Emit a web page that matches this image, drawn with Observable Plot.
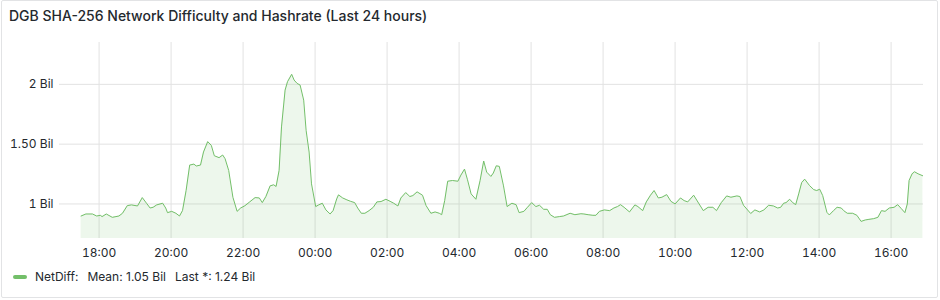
<!DOCTYPE html>
<html>
<head>
<meta charset="utf-8">
<script src="https://cdn.jsdelivr.net/npm/d3@7"></script>
<script src="https://cdn.jsdelivr.net/npm/@observablehq/plot@0.6"></script>
<style>
  html, body { margin: 0; padding: 0; background: #fff; }
  body { position: relative; width: 940px; height: 300px; overflow: hidden; font-family: Inter, "Noto Sans", sans-serif; color: #24292e; }
  #panel { position: absolute; left: 1px; top: 0px; width: 935px; height: 296px; border: 1px solid #e2e3e5; border-radius: 2px; }
  #title { position: absolute; left: 9px; top: 7px; font-size: 14px; line-height: 17px; font-weight: 500; color: #24292e; white-space: nowrap; }
  #chart { position: absolute; left: 0; top: 0; }
  #legend { position: absolute; left: 13px; top: 269px; font-size: 12px; line-height: 15px; color: #24292e; white-space: nowrap; display: flex; align-items: center; }
  #legend .sw { display: inline-block; width: 14px; height: 4px; border-radius: 2px; background: #73BF69; margin-right: 8px; }
  #legend .gap { display: inline-block; width: 9px; }
</style>
</head>
<body>
<div id="panel"></div>
<div id="title">DGB SHA-256 Network Difficulty and Hashrate (Last 24 hours)</div>
<div id="chart"></div>
<div id="legend"><span class="sw"></span><span>NetDiff:</span><span class="gap"></span><span>Mean: 1.05 Bil</span><span class="gap"></span><span>Last *: 1.24 Bil</span></div>
<script>
// Sample times (HH:MM, starting on day 1 at 17:30, rolling over past midnight)
const times = [
"17:30","17:38","17:49","17:56","18:02","18:05","18:12","18:22","18:33","18:39","18:47","18:54",
"19:04","19:12","19:19","19:25","19:30","19:36","19:46","19:51","19:54","20:01","20:08","20:14",
"20:19","20:25","20:31","20:38","20:42","20:49","20:54","21:01","21:07","21:12","21:20","21:26",
"21:30","21:36","21:43","21:50","21:56","22:03","22:11","22:20","22:27","22:32","22:38","22:45",
"22:51","22:55","23:00","23:04","23:10","23:14","23:21","23:25","23:30","23:35","23:41","23:45",
"23:50","23:54","00:01","00:06","00:12","00:18","00:25","00:30","00:36","00:39","00:46","00:53",
"00:59","01:06","01:11","01:17","01:23","01:30","01:37","01:43","01:50","01:58","02:05","02:11",
"02:18","02:23","02:31","02:38","02:43","02:50","02:59","03:05","03:13","03:20","03:27","03:31",
"03:36","03:41","03:49","03:58","04:03","04:09","04:14","04:20","04:28","04:35","04:41","04:46",
"04:53","04:57","05:02","05:07","05:14","05:20","05:28","05:35","05:40","05:48","05:54","06:01",
"06:08","06:14","06:21","06:27","06:32","06:39","06:47","06:54","07:05","07:13","07:23","07:28",
"07:35","07:43","07:48","07:54","08:02","08:11","08:18","08:24","08:29","08:35","08:44","08:53",
"08:58","09:06","09:12","09:19","09:25","09:32","09:38","09:46","09:53","10:00","10:09","10:15",
"10:21","10:31","10:40","10:47","10:55","11:03","11:09","11:17","11:26","11:33","11:43","11:48",
"11:54","12:06","12:13","12:21","12:28","12:36","12:44","12:51","12:56","13:01","13:05","13:11",
"13:16","13:21","13:26","13:31","13:36","13:44","13:51","13:56","14:01","14:06","14:13","14:17",
"14:24","14:30","14:37","14:41","14:47","14:56","15:03","15:10","15:17","15:23","15:31","15:38",
"15:44","15:50","15:57","16:05","16:11","16:17","16:23","16:27","16:30","16:35","16:39","16:45",
"16:53"
];
// NetDiff values in billions
const netDiff = [
0.899,0.916,0.916,0.899,0.905,0.894,0.916,0.888,0.899,0.922,0.986,0.992,
0.983,1.053,1.006,0.966,0.972,0.992,1.006,0.966,0.927,0.938,0.922,0.899,
0.944,1.112,1.325,1.333,1.317,1.325,1.434,1.521,1.490,1.403,1.387,1.409,
1.378,1.280,1.056,0.938,0.966,0.985,1.017,1.053,1.050,1.011,1.062,1.151,
1.160,1.146,1.280,1.644,1.952,2.022,2.084,2.036,2.008,1.994,1.868,1.616,
1.434,1.168,0.978,0.992,1.006,0.950,0.916,0.944,1.042,1.076,1.050,1.034,
1.022,1.011,0.966,0.922,0.922,0.944,0.972,1.017,1.020,1.039,1.022,1.006,
0.983,1.050,1.095,1.062,1.070,1.101,1.073,0.986,0.922,0.933,0.922,0.910,
1.028,1.190,1.196,1.190,1.241,1.291,1.202,1.084,1.039,1.196,1.359,1.266,
1.230,1.258,1.319,1.314,1.151,0.978,1.006,0.994,0.927,0.938,0.972,1.011,
0.978,0.989,0.955,0.955,0.910,0.888,0.894,0.899,0.922,0.910,0.918,0.916,
0.910,0.905,0.905,0.938,0.950,0.944,0.966,0.978,0.994,0.972,0.933,0.992,
0.978,0.944,1.017,1.073,1.112,1.050,1.056,1.078,1.022,1.000,1.050,1.028,
1.017,1.073,1.000,0.944,0.972,0.972,0.944,1.011,1.067,1.056,1.067,1.062,
0.989,0.920,0.950,0.933,0.950,0.989,0.983,0.966,0.972,1.006,1.011,1.039,
1.011,0.994,1.084,1.179,1.207,1.154,1.120,1.112,1.123,1.070,0.930,0.908,
0.944,0.972,0.966,0.944,0.922,0.922,0.905,0.854,0.866,0.871,0.877,0.888,
0.944,0.938,0.966,0.972,0.994,0.961,0.927,1.000,1.196,1.252,1.269,1.252,
1.235
];
const yTicks = [1, 1.5, 2];
const yTickLabels = ["1 Bil", "1.50 Bil", "2 Bil"];
const rangeStart = "16:54";
const rangeEnd = "16:54";

// Build dated rows (UTC), rolling into day 2 after midnight
function toDate(hm, day) {
  const [h, m] = hm.split(":").map(Number);
  return new Date(Date.UTC(2024, 0, day, h, m));
}
let day = 1, prevH = -1;
const data = times.map((s, i) => {
  const h = +s.split(":")[0];
  if (h < prevH) day = 2;
  prevH = h;
  return { t: toDate(s, day), v: netDiff[i] };
});
const x0 = toDate(rangeStart, 1), x1 = toDate(rangeEnd, 2);
const xTicks = d3.utcHour.every(2).range(x0, x1);
const labelFor = new Map(yTicks.map((d, i) => [d, yTickLabels[i]]));

const chart = Plot.plot({
  width: 940,
  height: 265,
  marginLeft: 59,
  marginRight: 17,
  marginTop: 42,
  marginBottom: 27,
  style: { fontFamily: "Inter, 'Noto Sans', sans-serif", fontSize: "12px", color: "#24292e", background: "transparent" },
  x: { type: "utc", domain: [x0, x1] },
  y: { domain: [0.711, 2.35] },
  marks: [
    Plot.gridX(xTicks, { stroke: "#e2e2e2", strokeOpacity: 1 }),
    Plot.gridY(yTicks, { stroke: "#e2e2e2", strokeOpacity: 1 }),
    Plot.areaY(data, { x: "t", y: "v", fill: "#73BF69", fillOpacity: 0.13, clip: true }),
    Plot.lineY(data, { x: "t", y: "v", stroke: "#73BF69", strokeWidth: 1, clip: true }),
    Plot.axisX(xTicks, { tickFormat: d3.utcFormat("%H:%M"), tickSize: 0, tickPadding: 10, label: null, fill: "#24292e" }),
    Plot.axisY(yTicks, { tickFormat: d => labelFor.get(d), tickSize: 0, tickPadding: 6, label: null, fill: "#24292e" })
  ]
});
document.getElementById("chart").appendChild(chart);
</script>
</body>
</html>
